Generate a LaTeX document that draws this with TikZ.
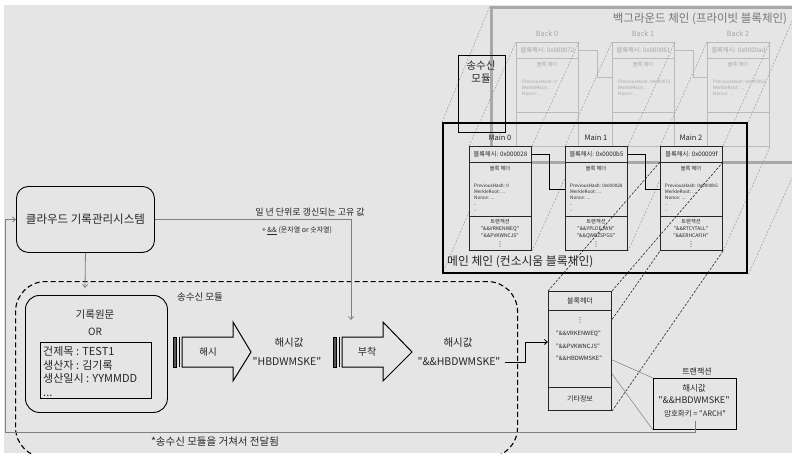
\documentclass[tikz,border=0pt]{standalone}
\usepackage{fontspec}
\setmainfont{Noto Sans CJK KR}
\newfontfamily\symfont{DejaVu Sans}
\usepackage{tikz}
\usetikzlibrary{arrows.meta}

\definecolor{bg}{HTML}{E5E5E5}
\definecolor{framegray}{HTML}{A8A8A8}
\definecolor{titlegray}{HTML}{777777}
\definecolor{backline}{HTML}{BABABA}
\definecolor{backtext}{HTML}{A6A6A6}
\definecolor{perspgray}{HTML}{9C9C9C}
\definecolor{linegray}{HTML}{7F7F7F}
\definecolor{textdark}{HTML}{262626}
\definecolor{bardark}{HTML}{555555}

\newcommand\qstr[1]{\textquotedbl#1\textquotedbl}

\pgfdeclarelayer{backchain}
\pgfdeclarelayer{persp}
\pgfdeclarelayer{front}
\pgfsetlayers{backchain,persp,main,front}

\begin{document}
\begin{tikzpicture}[x=1pt,y=-1pt,
  every node/.style={inner sep=0pt,text=textdark},
  cell/.style={draw=textdark,fill=bg,line width=1pt,minimum width=62pt,anchor=north west},
  backcell/.style={cell,draw=backline,text=backtext},
  zcell/.style={cell,minimum width=63pt,font=\fontsize{7}{8}\selectfont},
  hashfont/.style={font=\fontsize{6.2}{7}\selectfont},
  headfont/.style={font=\fontsize{5.2}{6}\selectfont},
  fieldfont/.style={font=\fontsize{4.6}{6}\selectfont,align=left,anchor=north west},
  txfont/.style={font=\fontsize{5}{6}\selectfont},
  dotfont/.style={font=\symfont\fontsize{7}{7}\selectfont},
  blocklbl/.style={font=\fontsize{7.5}{9}\selectfont},
  backlbl/.style={font=\fontsize{7.2}{9}\selectfont,text=backtext},
  valfont/.style={font=\fontsize{10.5}{12}\selectfont},
  persp/.style={draw=perspgray,line width=0.5pt,dash pattern=on 2pt off 1.5pt},
  zoomline/.style={draw=black!85,line width=0.6pt,dash pattern=on 2.5pt off 1.5pt},
  gline/.style={draw=linegray,line width=0.8pt},
  arr/.style={-{Straight Barb[length=3pt,width=5pt]}},
  blockarrow/.style={draw,line width=1pt,fill=bg,line join=miter}]
\useasboundingbox (0,0) rectangle (792,453);

% background (private) chain
\begin{pgfonlayer}{backchain}
\fill[bg] (4,5) rectangle (792,453);
\node[draw=framegray,line width=2.6pt,minimum width=306pt,minimum height=155pt,anchor=north west] (backframe) at (490,6) {};
\node[font=\fontsize{11.5}{13}\selectfont,text=titlegray] (backtitle) at (700,19) {백그라운드 체인 (프라이빗 블록체인)};
\node[backlbl] (b0lbl) at (547,34) {Back 0};
\node[backlbl] (b1lbl) at (643,34) {Back 1};
\node[backlbl] (b2lbl) at (738,34) {Back 2};
\node[backcell,minimum height=16pt,hashfont] (b0hash) at (516,42) {블록해시: 0x000072};
\node[backcell,minimum height=54pt] (b0head) at (516,58) {};
\node[backcell,minimum height=34pt] (b0tx) at (516,112) {};
\node[headfont,text=backtext] (b0htit) at (547,65) {블록 헤더};
\node[fieldfont,text=backtext] (b0fld) at (522,80) {PreviousHash: 0\\MerkleRoot: ...\\Nonce: ...\\..\\..};
\node[backcell,minimum height=16pt,hashfont] (b1hash) at (612,42) {블록해시: 0x000061};
\node[backcell,minimum height=54pt] (b1head) at (612,58) {};
\node[backcell,minimum height=34pt] (b1tx) at (612,112) {};
\node[headfont,text=backtext] (b1htit) at (643,65) {블록 헤더};
\node[fieldfont,text=backtext] (b1fld) at (618,80) {PreviousHash: 0x000072\\MerkleRoot: ...\\Nonce: ...\\..\\..};
\node[backcell,minimum height=16pt,hashfont] (b2hash) at (707,42) {블록해시: 0x0000ad};
\node[backcell,minimum height=54pt] (b2head) at (707,58) {};
\node[backcell,minimum height=34pt] (b2tx) at (707,112) {};
\node[headfont,text=backtext] (b2htit) at (738,65) {블록 헤더};
\node[fieldfont,text=backtext] (b2fld) at (713,80) {PreviousHash: 0x000061\\MerkleRoot: ...\\Nonce: ...\\..\\..};
\draw[backline,line width=0.9pt] (b0hash.east) -- ++(18,0) |- ([yshift=-19pt]b1head.north west);
\draw[backline,line width=0.9pt] (b1hash.east) -- ++(18,0) |- ([yshift=-19pt]b2head.north west);
\end{pgfonlayer}

% main (consortium) chain
\node[draw,line width=2.4pt,minimum width=304pt,minimum height=150pt,anchor=north west] (mainchain) at (442,122) {};
\node[font=\fontsize{11.8}{13}\selectfont,anchor=west] (mainlbl) at (447,262) {메인 체인 (컨소시움 블록체인)};
\node[draw,line width=1pt,minimum width=47pt,minimum height=77pt,anchor=north west] (relay) at (458,55) {};
\node[font=\fontsize{10.5}{12.5}\selectfont,align=center] (relaylbl) at (481,72) {송수신\\모듈};

\node[blocklbl] (m0lbl) at (500,138) {Main 0};
\node[blocklbl] (m1lbl) at (596,138) {Main 1};
\node[blocklbl] (m2lbl) at (691,138) {Main 2};
\node[cell,minimum height=16pt,hashfont] (m0hash) at (469,146) {블록해시: 0x000028};
\node[cell,minimum height=54pt] (m0head) at (469,162) {};
\node[cell,minimum height=34pt] (m0tx) at (469,216) {};
\node[headfont] (m0htit) at (500,169) {블록 헤더};
\node[fieldfont] (m0fld) at (474,184) {PreviousHash: 0\\MerkleRoot: ...\\Nonce: ...\\..\\..};
\node[headfont] (m0ttit) at (500,222) {트랜잭션};
\node[txfont] (m0t1) at (500,229) {\qstr{\&\&VRKENWEQ}};
\node[txfont] (m0t2) at (500,236) {\qstr{\&\&PVKWNCJS}};
\node[dotfont] (m0dots) at (500,244.5) {⋮};
\node[cell,minimum height=16pt,hashfont] (m1hash) at (565,146) {블록해시: 0x0000b5};
\node[cell,minimum height=54pt] (m1head) at (565,162) {};
\node[cell,minimum height=34pt] (m1tx) at (565,216) {};
\node[headfont] (m1htit) at (596,169) {블록 헤더};
\node[fieldfont] (m1fld) at (570,184) {PreviousHash: 0x000028\\MerkleRoot: ...\\Nonce: ...\\..\\..};
\node[headfont] (m1ttit) at (596,222) {트랜잭션};
\node[txfont] (m1t1) at (596,229) {\qstr{\&\&YPLDEJWN}};
\node[txfont] (m1t2) at (596,236) {\qstr{\&\&QWBZSPGS}};
\node[dotfont] (m1dots) at (596,244.5) {⋮};
\node[cell,minimum height=16pt,hashfont] (m2hash) at (660,146) {블록해시: 0x00009f};
\node[cell,minimum height=54pt] (m2head) at (660,162) {};
\node[cell,minimum height=34pt] (m2tx) at (660,216) {};
\node[headfont] (m2htit) at (691,169) {블록 헤더};
\node[fieldfont] (m2fld) at (665,184) {PreviousHash: 0x0000b5\\MerkleRoot: ...\\Nonce: ...\\..\\..};
\node[headfont] (m2ttit) at (691,222) {트랜잭션};
\node[txfont] (m2t1) at (691,229) {\qstr{\&\&RTCYTALL}};
\node[txfont] (m2t2) at (691,236) {\qstr{\&\&ERHCAFIH}};
\node[dotfont] (m2dots) at (691,244.5) {⋮};
\draw[line width=0.9pt] (m0hash.east) -- ++(17,0) |- ([yshift=-27pt]m1head.north west);
\draw[line width=0.9pt] (m1hash.east) -- ++(17,0) |- ([yshift=-27pt]m2head.north west);

% perspective lines between the two chains
\begin{pgfonlayer}{persp}
\foreach \c in {north west,north east,south west,south east}
  \draw[persp] (mainchain.\c) -- (backframe.\c);
\foreach \i in {0,1,2} {
  \draw[persp] (m\i hash.north west) -- (b\i hash.north west);
  \draw[persp] (m\i hash.north east) -- (b\i hash.north east);
  \draw[persp] (m\i tx.south west) -- (b\i tx.south west);
  \draw[persp] (m\i tx.south east) -- (b\i tx.south east);
}
\end{pgfonlayer}

% enlarged block of Main 2
\begin{pgfonlayer}{front}
\node[zcell,minimum height=19pt] (zhead) at (548,291) {블록헤더};
\node[zcell,minimum height=77pt] (zbody) at (548,310) {};
\node[zcell,minimum height=23pt] (zfoot) at (548,387) {기타정보};
\node[dotfont] (zdots) at (580,320) {⋮};
\node[font=\fontsize{5.8}{7}\selectfont,anchor=west] (zk1) at (556,334) {\qstr{\&\&VRKENWEQ}};
\node[font=\fontsize{5.8}{7}\selectfont,anchor=west] (zk2) at (556,346) {\qstr{\&\&PVKWNCJS}};
\node[font=\fontsize{5.8}{7}\selectfont,anchor=west] (zk3) at (556,358) {\qstr{\&\&HBDWMSKE}};
\end{pgfonlayer}
\draw[zoomline] (zhead.north west) -- (m2head.north west);
\draw[zoomline] (zhead.north east) -- (m2head.north east);
\draw[zoomline] (zfoot.south west) -- (m2tx.south west);
\draw[zoomline] (zfoot.south east) -- (m2tx.south east);

% transaction
\node[draw,line width=1pt,minimum width=83pt,minimum height=51pt,anchor=north west] (trx) at (653,378) {};
\node[font=\fontsize{8}{9}\selectfont] (trxlbl) at (697,372) {트랜잭션};
\node[font=\fontsize{8.5}{10}\selectfont] (trxtit) at (694,388) {해시값};
\node[font=\fontsize{9}{10}\selectfont] (trxval) at (694,400) {\qstr{\&\&HBDWMSKE}};
\node[font=\fontsize{7.5}{9}\selectfont] (trxkey) at (695,414) {암호화키 = \qstr{ARCH}};
\draw[gline,line width=0.5pt] (zk3.north east) -- (trx.north west);
\draw[gline,line width=0.5pt] (zk3.south east) -- (trx.south west);

% cloud system and module
\node[draw,rounded corners=12pt,line width=0.9pt,minimum width=138pt,minimum height=66pt,anchor=north west,font=\fontsize{11.5}{13}\selectfont] (cloud) at (16,186) {클라우드 기록관리시스템};
\node[draw,dash pattern=on 5pt off 3pt,line width=1.1pt,rounded corners=30pt,minimum width=502pt,minimum height=176pt,anchor=north west] (module) at (15,281) {};
\node[font=\fontsize{9.5}{11}\selectfont] (modlbl) at (200,297) {송수신 모듈};
\node[draw,rounded corners=14pt,line width=0.9pt,minimum width=142pt,minimum height=117pt,anchor=north west] (record) at (25,295) {};
\node[font=\fontsize{10.5}{12}\selectfont] (reclbl) at (95,315) {기록원문};
\node[font=\fontsize{10}{12}\selectfont] (orlbl) at (95,332) {OR};
\node[draw,line width=0.8pt,minimum width=111pt,minimum height=56pt,anchor=north west] (meta) at (40,342) {};
\node[font=\fontsize{11}{13.7}\selectfont,align=left,anchor=north west] (metatxt) at (43,346) {건제목 : TEST1\\생산자 : 김기록\\생산일시 : YYMMDD\\...};

% hash arrow
\draw[fill=bardark,line width=0.6pt] (173,337) rectangle (176.5,367);
\draw[line width=0.6pt] (179,337) -- (179,367);
\draw[blockarrow] (182,337) -- (233,337) -- (233,322) -- (251,352) -- (233,381) -- (233,367) -- (182,367) -- cycle;
\node[font=\fontsize{9.5}{11}\selectfont] (hashlbl) at (208,352) {해시};
\node[valfont] (hash1tit) at (289,343) {해시값};
\node[valfont] (hash1val) at (287,362) {\qstr{HBDWMSKE}};

% attach arrow
\draw[fill=bardark,line width=0.6pt] (333,337) rectangle (336.5,367);
\draw[line width=0.6pt] (339,337) -- (339,367);
\draw[blockarrow] (342,337) -- (383,337) -- (383,322) -- (412,352) -- (383,381) -- (383,367) -- (342,367) -- cycle;
\node[font=\fontsize{10}{12}\selectfont] (attachlbl) at (367,352) {부착};
\node[valfont] (hash2tit) at (458,343) {해시값};
\node[valfont] (hash2val) at (459,362) {\qstr{\&\&HBDWMSKE}};

% connectors
\coordinate (recin) at (85,288);
\coordinate (attachin) at (351,320);
\coordinate (fbcorner) at (5,432);
\draw[gline,arr] (cloud.south) -- (recin);
\draw[gline,arr] (cloud.east) -| (attachin);
\node[font=\fontsize{9}{10}\selectfont] (yearlbl) at (310,212) {일 년 단위로 갱신되는 고유 값};
\node[font=\fontsize{7}{9}\selectfont] (suffixlbl) at (297,231) {+ \underline{\&\&} (문자열 or 숫자열)};
\draw[line width=0.8pt,arr] ([xshift=4pt]hash2val.east) -- ++(21,0) |- ([yshift=-32pt]zbody.north west);
\draw[gline,arr] ([yshift=-3pt]trxkey.south) -- (trxkey.south |- fbcorner) -- (fbcorner) |- (cloud.west);
\node[font=\fontsize{10.5}{12}\selectfont] (notelbl) at (215,442) {*송수신 모듈을 거쳐서 전달됨};
\end{tikzpicture}
\end{document}
